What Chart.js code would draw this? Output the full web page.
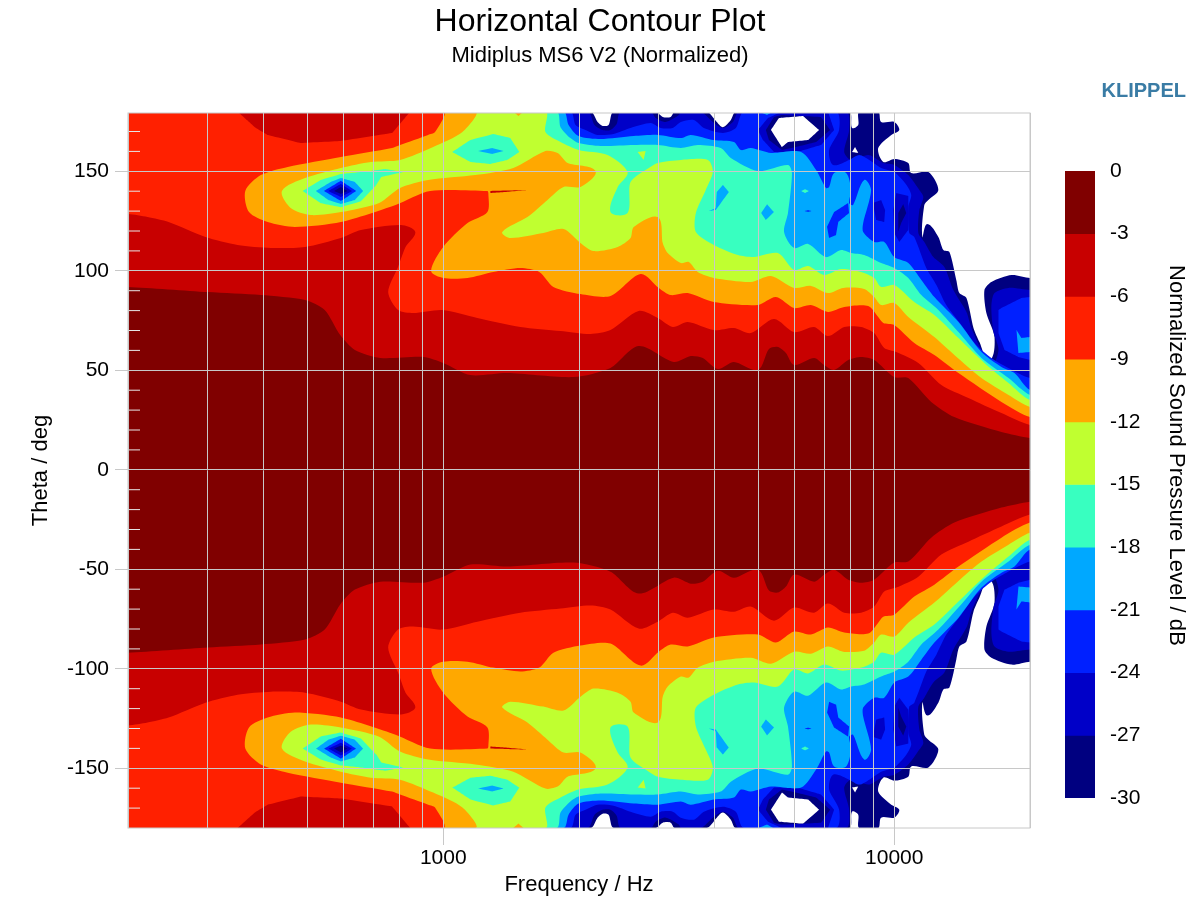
<!DOCTYPE html>
<html>
<head>
<meta charset="utf-8">
<title>Horizontal Contour Plot</title>
<script src="https://cdn.jsdelivr.net/npm/chart.js@4"></script>
<style>
  body { margin: 0; background: #fff; font-family: "Liberation Sans", Arial, sans-serif; }
  #wrap { position: relative; width: 1200px; height: 900px; overflow: hidden; }
  canvas { position: absolute; left: 0; top: 0; }
  #brand { position: absolute; right: 14px; top: 79px; font-size: 20px; font-weight: bold; color: #3a7ca5; }
  #barTitle { position: absolute; left: 1164px; top: 265px; writing-mode: vertical-rl; font-size: 22px; letter-spacing: 0.05px; color: #000; white-space: nowrap; }
</style>
</head>
<body>
<div id="wrap">
  <canvas id="contour" width="1200" height="900"></canvas>
  <canvas id="colorbar" width="170" height="900" style="left:1030px"></canvas>
  <div id="brand">KLIPPEL</div>
  <div id="barTitle">Normalized Sound Pressure Level / dB</div>
</div>
<script>
// axis ticks
const freqGrid = [200, 300, 400, 500, 600, 700, 800, 900, 1000, 2000, 3000, 4000, 5000, 6000, 7000, 8000, 9000, 10000, 20000];
const freqLabels = [1000, 10000];
const thetaTicks = [-150, -100, -50, 0, 50, 100, 150];
const thetaMinor = [170, 160, 140, 130, 120, 110, 90, 80, 70, 60, 40, 30, 20, 10, -10, -20, -30, -40, -60, -70, -80, -90, -110, -120, -130, -140, -160, -170];
const levelTicks = [0, -3, -6, -9, -12, -15, -18, -21, -24, -27, -30];
const levelColors = ["#800000", "#c80000", "#ff2000", "#ffa800", "#c0ff30", "#38ffc0", "#00a8ff", "#0020ff", "#0000c8", "#000080"];

// contour outlines: [Hz, deg], upper half of the polar range
// (the first and last points run past the axis limits and are clipped)
const bandNavy = [[200,180],[2122,180],[2199,174.8],[2256,172.8],[2326,173.3],[2386,180],[2958,180],[3067,177.3],[3194,177.3],[3260,180],[3842,180],[4041,174.8],[4170,172.2],[4342,175.8],[4454,180],[7943,180],[8062,171.8],[8320,173.3],[8363,180],[9215,180],[9354,174.8],[10000,174.8],[10260,170.8],[9850,168.3],[9215,161.7],[9456,154.7],[10000,156.2],[10744,154.2],[10906,149.1],[11904,149.6],[12526,140.6],[11904,135.6],[11659,133.1],[11543,117],[11838,123.5],[12526,117],[12854,110.4],[13254,109.4],[13730,95.3],[13947,88.8],[14458,86.3],[14986,71.3],[15453,64.2],[16261,55.2],[16685,66.7],[16007,78.8],[15849,90.3],[16419,94.4],[18201,97.9],[20000,96.4],[24000,96.4],[24000,0],[200,0]];
const bandC8 = [[200,180],[2089,180],[2165,173.3],[2256,170.8],[2349,170.8],[2424,173.8],[2474,180],[2885,180],[2958,176.8],[3115,174.8],[3330,178.3],[3364,180],[3724,180],[3961,174.8],[4170,171.8],[4389,174.8],[4526,180],[7824,180],[7943,170.8],[7745,159.7],[8022,155.7],[8757,158.2],[9215,155.7],[9456,154.2],[10000,153.2],[10744,148.1],[11368,140.6],[11601,137.1],[11368,130.5],[11308,119],[11659,114.5],[12211,106.9],[12916,101.9],[13524,90.3],[14458,79.3],[14825,71.3],[15611,60.2],[16419,52.7],[17027,60.2],[16600,69.2],[16419,81.8],[16685,88.8],[17924,91.4],[20000,90.3],[24000,90.3],[24000,0],[200,0]];
const bandBlue = [[200,180],[1914,180],[1965,173.3],[2067,170.8],[2199,168.3],[2386,168.8],[2602,171.8],[2885,174.3],[3034,171.8],[3228,171.8],[3364,174.8],[3595,175.8],[3783,171.8],[4170,169.3],[4454,171.8],[4642,180],[7430,180],[7547,170.8],[7172,160.7],[7319,153.2],[7943,155.7],[8363,158.2],[8801,155.7],[9354,151.7],[10000,149.6],[10636,143.2],[10906,138.1],[10744,132.1],[10798,119],[11079,117],[11778,101.4],[12400,92.9],[13042,82.8],[14083,72.8],[15206,62.7],[16419,56.2],[17729,51.7],[20000,46.1],[24000,44],[24000,0],[200,0]];
const bandSky = [[200,180],[1848,180],[1896,173.3],[1995,167.7],[2232,166.2],[2644,167.7],[2990,168.3],[3364,166.7],[3538,168.3],[3981,165.7],[4411,164.7],[4572,160.7],[4809,161.7],[5331,159.2],[6215,159.7],[6711,150.6],[7058,141.6],[7172,142.1],[7356,149.1],[7824,149.1],[8022,140.6],[7943,134.1],[8105,133.1],[8577,145.6],[8886,140.6],[8534,124],[8534,119.5],[9029,114.5],[9502,114.5],[10000,106.9],[10744,103.9],[11484,95.4],[12274,86.8],[13880,74.3],[15611,59.2],[17289,51.7],[18478,48.6],[20000,40.1],[24000,38],[24000,0],[200,0]];
const bandCyan = [[200,180],[1783,180],[1820,172.2],[1914,166.7],[1995,164.2],[2232,162.7],[2644,163.2],[2990,163.2],[3364,161.7],[3668,163.2],[4124,161.7],[4342,156.7],[4987,150.1],[5813,153.2],[5933,149.1],[5813,129],[5698,119.5],[5995,111.5],[6443,113.5],[7058,106.9],[7621,110.4],[8022,108.9],[8577,107.9],[9354,103.9],[10000,101.4],[10744,96.4],[11484,87.8],[12526,80.3],[13880,69.2],[15611,56.2],[17924,46.1],[20000,37.6],[24000,35.5],[24000,0],[200,0]];
const bandLime = [[200,180],[1685,180],[1685,169.7],[1820,164.7],[1995,160.7],[2314,158.2],[2563,149.6],[2437,142.1],[2349,129.5],[2563,129],[2602,144.6],[2856,151.7],[2990,154.2],[3364,155.7],[3862,155.7],[3961,149.6],[3820,140.6],[3632,129],[3632,119.5],[3981,113],[4503,107.9],[4887,106.9],[5523,108.9],[5995,100.4],[6443,102.4],[6990,97.9],[7621,100.9],[8446,99.4],[9029,96.4],[9354,91.9],[10000,92.9],[11079,84.3],[12274,77.8],[13880,66.2],[15849,53.7],[17924,43.6],[20000,35.1],[24000,33],[24000,0],[200,0]];
const bandOrange = [[200,180],[1178,180],[1103,169.7],[950,162.2],[802,155.7],[691,154.7],[593,151.7],[494,146.6],[439,140.1],[459,131.6],[509,128],[593,129.5],[721,134.1],[802,141.6],[926,145.6],[1178,148.1],[1430,151.7],[1685,160.2],[1793,159.2],[1887,154.2],[2176,150.1],[2015,142.1],[1848,142.1],[1703,135.6],[1537,127],[1352,119.5],[1408,116.5],[1668,119],[1848,121],[2015,114],[2154,109.9],[2437,112],[2602,116.5],[2644,122],[2990,127],[3067,114],[3146,108.9],[3364,103.9],[3503,104.4],[3668,99.4],[3981,96.4],[4809,94.4],[5331,97.4],[5995,91.4],[6537,92.4],[7130,88.8],[7705,91.4],[8577,90.9],[9029,86.8],[9354,82.8],[10000,83.8],[10744,76.8],[12274,66.7],[13594,57.7],[15611,46.1],[17924,37.6],[20000,31.6],[24000,29.5],[24000,0],[200,0]];
const bandRed = [[200,180],[1000,180],[959,169.7],[926,168.3],[802,163.2],[770,161.7],[593,157.2],[452,152.2],[394,148.1],[364,140.1],[371,129.5],[408,124.5],[469,122],[593,124.5],[784,133.1],[935,140.1],[1253,140.1],[1259,139.1],[1253,129.5],[1132,124],[1000,112],[940,99.9],[1000,96.4],[1132,96.4],[1291,99.4],[1483,101.4],[1633,99.4],[1755,91.9],[2015,88.3],[2349,87.3],[2739,98.4],[3005,91.4],[3194,87.8],[3485,88.8],[3981,84.3],[4987,82.8],[5467,86.8],[5995,81.3],[6537,82.8],[7130,79.3],[7745,81.8],[8757,82.3],[9215,76.8],[9456,73.8],[10000,72.8],[11079,63.7],[12274,57.7],[13880,48.6],[17289,34.1],[20000,26.5],[24000,24.5],[24000,0],[200,0]];
const bandDark = [[160,129.5],[200,128.5],[221,127],[246,124.5],[297,117],[350,113],[415,111.5],[494,112],[593,116.5],[657,120.5],[806,123],[867,119.5],[825,112],[794,101.9],[755,89.3],[794,80.3],[858,78.8],[995,80.3],[1190,76.3],[1483,71.8],[1820,69.7],[2122,68.2],[2349,70.2],[2712,79.8],[2990,76.3],[3228,71.8],[3485,74.3],[3981,70.2],[4411,71.3],[4809,68.7],[5412,75.8],[5995,69.2],[6644,71.8],[7130,67.2],[7745,71.8],[8446,71.8],[9029,68.7],[9502,61.2],[10103,59.2],[11308,53.7],[12719,42.6],[14603,36.1],[17289,28.5],[20000,22.5],[24000,20.5],[24000,0],[160,0]];
const bandCore = [[160,92.2],[200,91.9],[301,89.3],[394,87.8],[494,85.3],[546,80.3],[591,67.7],[637,60.2],[725,56.2],[904,56.7],[1000,53.7],[1149,47.6],[1387,48.6],[1944,46.6],[2349,51.2],[2712,62.2],[3243,54.2],[3538,57.2],[3763,56.2],[4062,50.7],[4411,54.2],[4987,50.2],[5275,60.7],[5523,61.7],[5754,58.7],[5995,52.7],[6644,56.2],[6990,52.7],[7356,50.2],[7904,55.2],[8446,56.7],[9029,55.2],[10000,46.6],[10744,46.1],[12079,34.1],[13594,26.5],[17289,19],[20000,16],[24000,14.5],[24000,0],[160,0]];

// local islands and pits
const topRidge = [[350,180],[382,172.2],[408,168.3],[484,164.2],[593,165.2],[770,169.2],[845,180]];
const darkSliver = [[1272,140.1],[1372,140.3],[1537,140.6],[1372,139.6],[1272,139.1]];
const orangePatch = [[1430,180],[1506,180],[1468,177.8]];
const limeSpot = [[2698,159.7],[2810,160.2],[2782,155.7]];
const pit600Cyan = [[488,140.1],[535,145.6],[593,148.6],[657,149.6],[744,151.2],[815,149.6],[729,147.1],[710,143],[657,135],[593,132],[535,134]];
const pit600Sky = [[522,140.1],[563,144.6],[593,146.6],[637,144.6],[664,140.1],[637,135.6],[593,133.6],[556,135.6]];
const pit600Blue = [[544,140.1],[593,145.2],[641,140.1],[593,135.1]];
const pit600C8 = [[556,140.1],[593,143.6],[628,140.1],[593,137.1]];
const pit600Navy = [[573,140.1],[593,142.1],[613,140.1],[593,138.6]];
const pit1300Cyan = [[1047,159.7],[1149,165.7],[1291,168.7],[1408,166.7],[1475,159.7],[1387,155.7],[1272,153.7],[1149,154.7]];
const pit1300Sky = [[1196,160.2],[1284,161.7],[1359,160.2],[1284,158.7]];
const skyPitA = [[4170,143.1],[4299,139.6],[4021,130.5],[3884,130],[4021,131.5],[4041,139.6]];
const skyPitB = [[5223,133.5],[5412,129.5],[5192,125.5],[5068,129]];
const skyTop = [[5012,180],[5384,180],[5223,178.3]];
const cyanSpot = [[6215,140.1],[6342,141],[6472,140.1],[6342,139.1]];
const blueThin = [[6310,130],[6443,130.4],[6570,130],[6443,129.6]];
const bluePit = [[7904,134.1],[7943,129],[7516,124.5],[7430,118],[7172,116.5],[7098,122],[7356,129.5]];
const c8OvalA = [[8966,134.1],[9354,135.6],[9545,130.5],[9502,124.5],[9120,125.5]];
const c8OvalB = [[10103,139.1],[10744,137.6],[10744,120.5],[10260,114.5],[10000,119],[9949,130.5]];
const navyOval = [[10471,133.6],[10636,129],[10363,124],[10207,119.5],[10207,129]];
const rimC8 = [[4987,170.8],[5249,176.8],[5638,180],[7130,180],[7356,170.8],[6881,163.2],[6090,159.7],[5412,159.7],[5115,165.7]];
const rimNavy = [[5192,170.8],[5412,177.3],[5638,178.3],[6881,177.3],[7208,170.8],[6711,164.7],[6053,162.2],[5638,160.7],[5275,165.7]];
const holeBig = [[5331,170.8],[5552,176.8],[6278,177.8],[6813,170.8],[6443,165.7],[5813,164.7],[5638,162.2]];
const holeSmall = [[8062,159.7],[8188,162.2],[8320,159.2]];
const blobBlue = [[17289,81.3],[19143,86.3],[20000,86.8],[20000,55.2],[18860,56.7],[17558,60.2],[17027,68.7],[17027,80.3]];
const blobSky = [[18666,70.2],[19143,66.2],[20000,66.7],[20000,59.2],[18860,58.7]];

const [cCore, cDark, cRed, cOrange, cLime, cCyan, cSky, cBlue, cC8, cNavy] = levelColors;

// painted bottom to top
const paintOrder = [
  [bandNavy, cNavy], [holeBig, "#ffffff"], [holeSmall, "#ffffff"], [bandC8, cC8], [rimC8, cC8], [rimNavy, cNavy], [holeBig, "#ffffff"],
  [bandBlue, cBlue], [rimC8, cC8], [rimNavy, cNavy], [holeBig, "#ffffff"], [c8OvalA, cC8], [c8OvalB, cC8], [navyOval, cNavy], [blobBlue, cBlue],
  [bandSky, cSky], [skyTop, cSky], [blobSky, cSky], [bluePit, cBlue], [blueThin, cBlue], [bandCyan, cCyan], [cyanSpot, cCyan], [skyPitA, cSky], [skyPitB, cSky],
  [bandLime, cLime], [limeSpot, cLime], [orangePatch, cOrange], [bandOrange, cOrange], [bandRed, cRed], [bandDark, cDark], [bandCore, cCore],
  [topRidge, cDark], [darkSliver, cDark],
  [pit1300Cyan, cCyan], [pit1300Sky, cSky],
  [pit600Cyan, cCyan], [pit600Sky, cSky], [pit600Blue, cBlue], [pit600C8, cC8], [pit600Navy, cNavy],
];

const toPoints = (band, sign) => band.map(([x, y]) => ({ x: x, y: sign * y }));

const contourSets = [];
paintOrder.forEach(([band, color]) => {
  [1, -1].forEach((sign) => {
    contourSets.push({ data: toPoints(band, sign), isBand: true, backgroundColor: color, showLine: false, pointRadius: 0 });
  });
});

// closed outlines filled through the chart's own scales; the long ones get rounded joints
const bandFill = {
  id: "bandFill",
  beforeDatasetsDraw(chart) {
    const { ctx, chartArea, scales } = chart;
    ctx.save();
    ctx.beginPath();
    ctx.rect(chartArea.left, chartArea.top, chartArea.width, chartArea.height);
    ctx.clip();
    chart.data.datasets.forEach((ds) => {
      if (!ds.isBand) return;
      const pts = ds.data.map((p) => [scales.x.getPixelForValue(p.x), scales.y.getPixelForValue(p.y)]);
      const n = pts.length;
      ctx.beginPath();
      ctx.moveTo(pts[0][0], pts[0][1]);
      const round = n >= 20 ? 0.25 : 0;
      const tangent = (i) => {
        const a = pts[(i - 1 + n) % n], b = pts[(i + 1) % n];
        const len = Math.hypot(b[0] - a[0], b[1] - a[1]) || 1;
        return [(b[0] - a[0]) / len, (b[1] - a[1]) / len];
      };
      for (let i = 0; i < n; i++) {
        const p = pts[i], q = pts[(i + 1) % n];
        const d = Math.hypot(q[0] - p[0], q[1] - p[1]) * round;
        const t0 = tangent(i), t1 = tangent((i + 1) % n);
        ctx.bezierCurveTo(p[0] + t0[0] * d, p[1] + t0[1] * d, q[0] - t1[0] * d, q[1] - t1[1] * d, q[0], q[1]);
      }
      ctx.closePath();
      ctx.fillStyle = ds.backgroundColor;
      ctx.fill();
    });
    ctx.restore();
  },
  afterDraw(chart) {
    const { ctx, chartArea } = chart;
    ctx.save();
    ctx.strokeStyle = "#c8c8c8";
    ctx.lineWidth = 1;
    ctx.strokeRect(chartArea.left, chartArea.top, chartArea.width, chartArea.height);
    ctx.restore();
  },
};

const font = "'Liberation Sans', Arial, sans-serif";

new Chart(document.getElementById("contour"), {
  type: "scatter",
  plugins: [bandFill],
  data: {
    datasets: contourSets.concat([
      {
        data: thetaMinor.map((t) => ({ x: 200, y: t })),
        pointStyle: "line",
        pointRadius: 12,
        pointBorderWidth: 1,
        pointBorderColor: "#e6e6e6",
        showLine: false,
      },
    ]),
  },
  options: {
    responsive: false,
    animation: false,
    events: [],
    plugins: {
      legend: { display: false },
      tooltip: { enabled: false },
      title: {
        display: true,
        text: "Horizontal Contour Plot",
        color: "#000",
        font: { family: font, size: 32, weight: "normal" },
        padding: { top: 3, bottom: 1.6 },
      },
      subtitle: {
        display: true,
        text: "Midiplus MS6 V2 (Normalized)",
        color: "#000",
        font: { family: font, size: 22, weight: "normal" },
        padding: { top: 0, bottom: 43.6 },
      },
    },
    scales: {
      x: {
        type: "logarithmic",
        min: 200,
        max: 20000,
        afterBuildTicks: (scale) => { scale.ticks = freqGrid.map((v) => ({ value: v })); },
        afterFit: (scale) => { scale.height = 72; },
        ticks: {
          autoSkip: false,
          maxRotation: 0,
          padding: 1,
          color: "#000",
          font: { family: font, size: 21 },
          callback: (v) => (freqLabels.includes(v) ? String(v) : ""),
        },
        grid: {
          z: 1,
          color: "#c8c8c8",
          tickLength: 17,
          tickColor: (c) => (c.tick && freqLabels.includes(c.tick.value) ? "#c8c8c8" : "transparent"),
        },
        border: { display: false },
        title: { display: true, text: "Frequency / Hz", color: "#000", font: { family: font, size: 22 }, padding: { top: 2, bottom: 2 } },
      },
      y: {
        min: -180,
        max: 179.3,
        afterBuildTicks: (scale) => { scale.ticks = thetaTicks.map((v) => ({ value: v })); },
        afterFit: (scale) => { scale.width = 128; },
        ticks: { autoSkip: false, padding: 6, color: "#000", font: { family: font, size: 21 } },
        grid: { z: 1, color: "#c8c8c8", tickLength: 13, tickColor: "#c8c8c8" },
        border: { display: false },
        title: { display: true, text: "Theta / deg", color: "#000", font: { family: font, size: 22 }, padding: { top: 28, bottom: 0 } },
      },
      // empty axis that keeps the space on the right for the colour bar
      gap: {
        position: "right",
        afterFit: (scale) => { scale.width = 170; },
        ticks: { display: false },
        grid: { display: false },
        border: { display: false },
      },
    },
  },
});

// colour bar
new Chart(document.getElementById("colorbar"), {
  type: "bar",
  data: {
    labels: ["level"],
    datasets: levelColors.map((color, i) => ({
      data: [[levelTicks[i + 1], levelTicks[i]]],
      backgroundColor: color,
      barPercentage: 1,
      categoryPercentage: 1,
    })),
  },
  options: {
    responsive: false,
    animation: false,
    events: [],
    layout: { padding: { left: 35, top: 171, bottom: 102 } },
    plugins: { legend: { display: false }, tooltip: { enabled: false } },
    scales: {
      x: { display: false, stacked: true },
      y: {
        position: "right",
        min: -30,
        max: 0,
        afterBuildTicks: (scale) => { scale.ticks = levelTicks.map((v) => ({ value: v })); },
        afterFit: (scale) => { scale.width = 105; },
        ticks: { padding: 15, color: "#000", font: { family: font, size: 21 } },
        grid: { display: false, drawTicks: false },
        border: { display: false },
      },
    },
  },
});
</script>
</body>
</html>
